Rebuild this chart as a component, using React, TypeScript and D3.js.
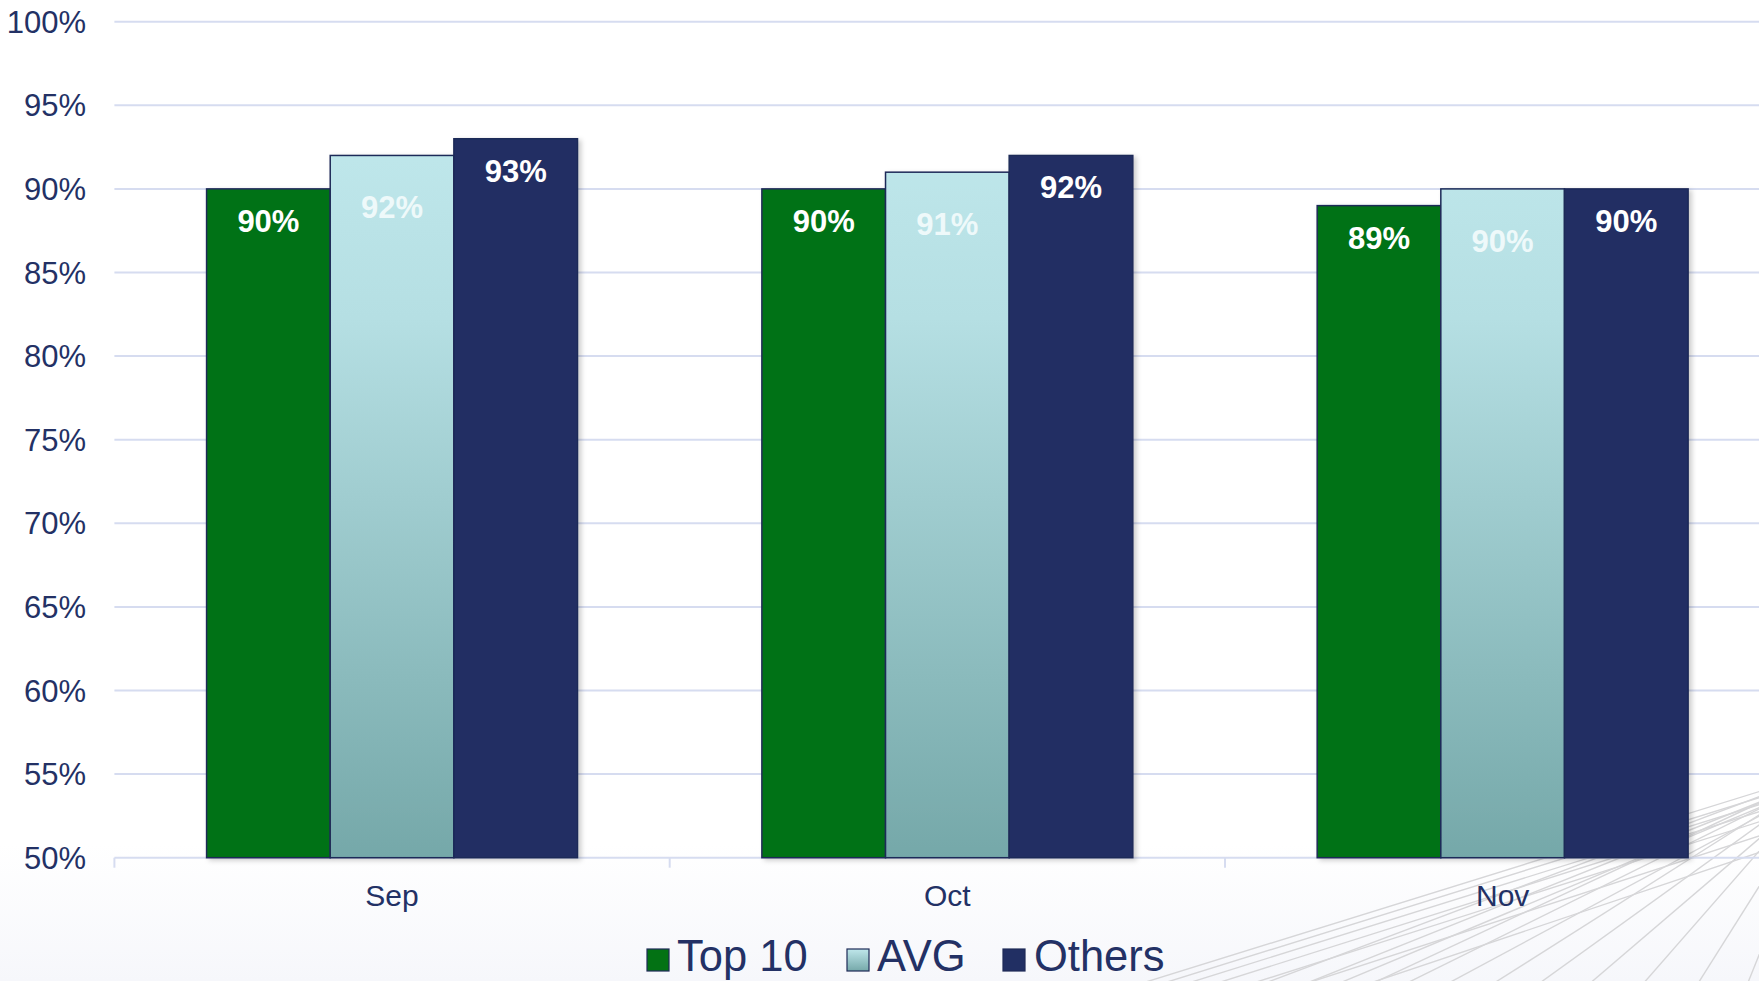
import React from "react";
import * as d3 from "d3";

const categories = ["Sep", "Oct", "Nov"];
const seriesNames = ["Top 10", "AVG", "Others"];
const top10 = [0.9, 0.9, 0.89];
const avg = [0.92, 0.91, 0.9];
const others = [0.93, 0.92, 0.9];
const yTicks = [0.5, 0.55, 0.6, 0.65, 0.7, 0.75, 0.8, 0.85, 0.9, 0.95, 1.0];

const W = 1759;
const H = 981;
const FONT = "'Liberation Sans', Arial, sans-serif";
const NAVY = "#233165";

// background decoration (not data)
const fanSteepEnds = [1260, 1302, 1335, 1369, 1403, 1445, 1491, 1537, 1588, 1642, 1697, 1747];
const fanShallow = [
  [1790, 782, 1120, 990],
  [1790, 788, 1135, 992],
  [1790, 795, 1150, 995],
  [1790, 802, 1170, 998],
  [1790, 812, 1200, 1000],
  [1790, 826, 1240, 1005],
  [1790, 842, 1290, 1010],
];

export default function App() {
  const plotLeft = 114.4;
  const step = 555.3;
  const x0 = d3
    .scaleBand<string>()
    .domain(categories)
    .range([plotLeft, plotLeft + step * categories.length])
    .paddingInner(0.332)
    .paddingOuter(0.166);
  const x1 = d3.scaleBand<string>().domain(seriesNames).range([0, x0.bandwidth()]);
  const y = d3.scaleLinear().domain([0.5, 1.0]).range([857.7, 21.7]);

  const seriesValues = [top10, avg, others];
  const fills = ["#037214", "url(#avgGrad)", "#212f63"];
  const labelColors = ["#ffffff", "#eef9fa", "#ffffff"];
  const labelOffsets = [43, 63, 43];
  const fmt = d3.format(".0%");

  return (
    <svg
      width={W}
      height={H}
      style={{ position: "absolute", left: 0, top: 0, display: "block" }}
      fontFamily={FONT}
    >
      <defs>
        <linearGradient id="bgGrad" x1="0" y1="0" x2="0" y2="1">
          <stop offset="0" stopColor="#ffffff" />
          <stop offset="0.86" stopColor="#ffffff" />
          <stop offset="1" stopColor="#f6f7fb" />
        </linearGradient>
        <linearGradient id="avgGrad" gradientUnits="userSpaceOnUse" x1="0" y1={y(0.93)} x2="0" y2={y(0.5)}>
          <stop offset="0" stopColor="#bfe7eb" />
          <stop offset="0.25" stopColor="#b5dfe3" />
          <stop offset="1" stopColor="#75a8a9" />
        </linearGradient>
        <linearGradient id="legGrad" x1="0" y1="0" x2="0" y2="1">
          <stop offset="0" stopColor="#bfe7eb" />
          <stop offset="1" stopColor="#75a8a9" />
        </linearGradient>
        <filter id="shadow" x="-10%" y="-10%" width="130%" height="130%">
          <feDropShadow dx="3" dy="2" stdDeviation="2.5" floodColor="#000" floodOpacity="0.2" />
        </filter>
      </defs>
      <rect x={0} y={0} width={W} height={H} fill="url(#bgGrad)" />
      <g stroke="#d6d6d8" strokeWidth={1.4} fill="none">
        {fanSteepEnds.map((bx, i) => (
          <line key={"s" + i} x1={1830} y1={770 + (i % 3) * 4} x2={bx} y2={985} />
        ))}
        {fanShallow.map((l, i) => (
          <line key={"h" + i} x1={l[0]} y1={l[1]} x2={l[2]} y2={l[3]} />
        ))}
      </g>

      {/* gridlines */}
      <g>
        {yTicks.map((t) => (
          <line
            key={t}
            x1={plotLeft}
            x2={W + 30}
            y1={y(t)}
            y2={y(t)}
            stroke="#d6dcf0"
            strokeWidth={2}
          />
        ))}
      </g>
      {/* x ticks */}
      <g>
        {[0, 1, 2, 3].map((i) => (
          <line
            key={i}
            x1={plotLeft + step * i}
            x2={plotLeft + step * i}
            y1={y(0.5)}
            y2={y(0.5) + 10}
            stroke="#d6dcf0"
            strokeWidth={2}
          />
        ))}
      </g>
      {/* y labels */}
      <g>
        {yTicks.map((t) => (
          <text
            key={t}
            x={86}
            y={y(t) + 11}
            textAnchor="end"
            fontSize={31}
            fill={NAVY}
          >
            {fmt(t)}
          </text>
        ))}
      </g>
      {/* bars */}
      {categories.map((c, ci) => (
        <g key={c} transform={`translate(${x0(c)},0)`} filter="url(#shadow)">
          {seriesNames.map((s, si) => {
            const v = seriesValues[si][ci];
            return (
              <rect
                key={s}
                x={x1(s)}
                y={y(v)}
                width={x1.bandwidth()}
                height={y(0.5) - y(v)}
                fill={fills[si]}
                stroke="#1f2b58"
                strokeWidth={1.5}
              />
            );
          })}
        </g>
      ))}
      {/* labels */}
      {categories.map((c, ci) => (
        <g key={c} transform={`translate(${x0(c)},0)`}>
          {seriesNames.map((s, si) => {
            const v = seriesValues[si][ci];
            return (
              <text
                key={s}
                x={(x1(s) as number) + x1.bandwidth() / 2}
                y={y(v) + labelOffsets[si]}
                textAnchor="middle"
                fontSize={31}
                fontWeight="bold"
                fill={labelColors[si]}
              >
                {fmt(v)}
              </text>
            );
          })}
        </g>
      ))}
      {/* x labels */}
      {categories.map((c) => (
        <text
          key={c}
          x={(x0(c) as number) + x0.bandwidth() / 2}
          y={906}
          textAnchor="middle"
          fontSize={30}
          fill={NAVY}
        >
          {c}
        </text>
      ))}
      {/* legend */}
      <g>
        {[
          { name: seriesNames[0], sx: 647, tx: 677 },
          { name: seriesNames[1], sx: 847, tx: 877 },
          { name: seriesNames[2], sx: 1003, tx: 1034 },
        ].map((l, i) => (
          <g key={l.name}>
            <rect
              x={l.sx}
              y={949}
              width={22}
              height={22}
              fill={i === 1 ? "url(#legGrad)" : fills[i]}
              stroke="#1f2b58"
              strokeWidth={1.2}
            />
            <text x={l.tx} y={971} fontSize={43.5} fill={NAVY}>
              {l.name}
            </text>
          </g>
        ))}
      </g>
    </svg>
  );
}
